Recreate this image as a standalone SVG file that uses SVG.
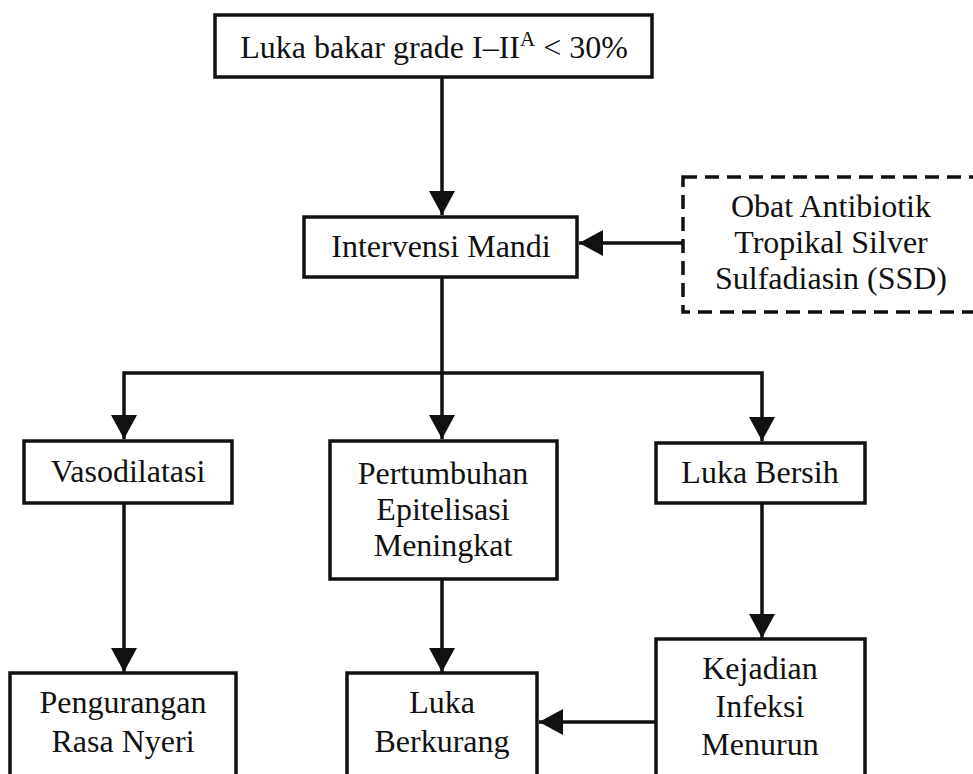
<svg xmlns="http://www.w3.org/2000/svg" width="973" height="774" viewBox="0 0 973 774">
<style>
.box{fill:#fff;stroke:#111;stroke-width:3.5}
.dash{fill:#fff;stroke:#111;stroke-width:3.5;stroke-dasharray:14 8}
.t{font-family:"Liberation Serif","Times New Roman",serif;font-size:32px;fill:#111;text-anchor:middle}
.c{fill:none;stroke:#111;stroke-width:3.5}
</style>
<defs>
<marker id="ah" viewBox="0 0 24 26" markerWidth="24" markerHeight="26" refX="24" refY="13" orient="auto" markerUnits="userSpaceOnUse">
<path d="M0,0 L24,13 L0,26 Z" fill="#111"/>
</marker>
</defs>
<rect width="973" height="774" fill="#fff"/>
<g id="connectors">
<path class="c" d="M442,77 V215" marker-end="url(#ah)"/>
<path class="c" d="M683,243 H579" marker-end="url(#ah)"/>
<path class="c" d="M442,277 V439" marker-end="url(#ah)"/>
<path class="c" d="M442,373 H124 V439" marker-end="url(#ah)"/>
<path class="c" d="M442,373 H762 V441" marker-end="url(#ah)"/>
<path class="c" d="M124,503 V672" marker-end="url(#ah)"/>
<path class="c" d="M442,579 V672" marker-end="url(#ah)"/>
<path class="c" d="M762,503 V638" marker-end="url(#ah)"/>
<path class="c" d="M656,722 H539" marker-end="url(#ah)"/>
</g>
<g id="n-luka-bakar">
<rect class="box" x="215" y="15" width="437" height="62"/>
<text class="t" x="434" y="58">Luka bakar grade I–II<tspan font-size="21" dy="-12">A</tspan><tspan dy="12"> &lt; 30%</tspan></text>
</g>
<g id="n-intervensi">
<rect class="box" x="304" y="217" width="273" height="60"/>
<text class="t" x="441" y="257">Intervensi Mandi</text>
</g>
<g id="n-obat">
<rect class="dash" x="683" y="177" width="310" height="135"/>
<text class="t"><tspan x="831" y="217">Obat Antibiotik</tspan><tspan x="831" y="253">Tropikal Silver</tspan><tspan x="831" y="289">Sulfadiasin (SSD)</tspan></text>
</g>
<g id="n-vasodilatasi">
<rect class="box" x="24" y="441" width="208" height="62"/>
<text class="t" x="128" y="482">Vasodilatasi</text>
</g>
<g id="n-pertumbuhan">
<rect class="box" x="330" y="441" width="227" height="138"/>
<text class="t"><tspan x="443" y="484">Pertumbuhan</tspan><tspan x="443" y="520">Epitelisasi</tspan><tspan x="443" y="556">Meningkat</tspan></text>
</g>
<g id="n-luka-bersih">
<rect class="box" x="656" y="443" width="209" height="60"/>
<text class="t" x="760" y="483">Luka Bersih</text>
</g>
<g id="n-pengurangan">
<rect class="box" x="10" y="673" width="226" height="120"/>
<text class="t"><tspan x="123" y="713">Pengurangan</tspan><tspan x="123" y="752">Rasa Nyeri</tspan></text>
</g>
<g id="n-luka-berkurang">
<rect class="box" x="347" y="673" width="190" height="120"/>
<text class="t"><tspan x="442" y="713">Luka</tspan><tspan x="442" y="752">Berkurang</tspan></text>
</g>
<g id="n-kejadian">
<rect class="box" x="656" y="639" width="209" height="160"/>
<text class="t"><tspan x="760" y="679">Kejadian</tspan><tspan x="760" y="717">Infeksi</tspan><tspan x="760" y="755">Menurun</tspan></text>
</g>
</svg>
